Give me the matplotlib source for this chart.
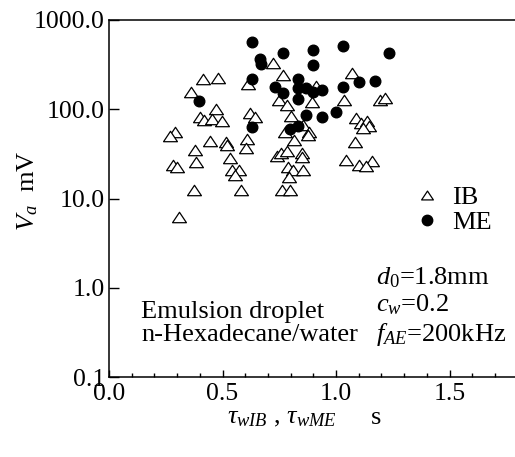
import numpy as np
import matplotlib
matplotlib.use("Agg")
import matplotlib.pyplot as plt
from matplotlib.path import Path
from matplotlib.lines import Line2D

plt.rcParams['font.family'] = ['Liberation Serif', 'DejaVu Serif']
plt.rcParams['mathtext.fontset'] = 'custom'
plt.rcParams['mathtext.rm'] = 'Liberation Serif'
plt.rcParams['mathtext.it'] = 'Liberation Serif:italic'

# IB (open triangles): waiting time tau_wIB [s] and amplitude Va [mV]
ib_tau = [0.724, 0.765, 0.611, 0.414, 0.481, 0.363, 0.914, 0.893, 0.750, 0.785,
          0.471, 0.621, 0.641, 0.400, 0.418, 0.454, 0.496, 0.800, 1.069, 1.035,
          1.194, 1.217, 1.089, 1.110, 1.135, 1.147, 1.120, 0.775, 0.856, 0.881,
          0.878, 0.817, 1.084, 0.291, 0.269, 0.445, 0.515, 0.519, 0.607, 0.604,
          0.379, 0.533, 0.739, 0.756, 0.786, 0.849, 0.851, 1.045, 1.159, 1.101,
          1.130, 0.383, 0.282, 0.298, 0.541, 0.574, 0.555, 0.374, 0.581, 0.310,
          0.790, 0.812, 0.853, 0.794, 0.762, 0.797]
ib_va = [332, 244, 192, 217, 222, 156, 181, 122, 127, 113,
         100, 91, 81, 81, 76, 78, 74, 84.5, 257, 127,
         127, 135, 79, 71, 74, 65, 61, 56, 66, 56,
         51, 45, 43, 55, 50, 44, 43, 40, 47, 37,
         34.5, 28.4, 30.3, 32.4, 34, 32.4, 29, 27, 26.3, 24,
         23, 25.8, 23.7, 22.7, 20.9, 20.9, 18.3, 12.5, 12.5, 6.15,
         22.8, 20.9, 20.9, 17.5, 12.5, 12.5]

# ME (filled circles)
me_tau = [0.632, 0.665, 0.670, 0.767, 0.900, 1.032, 1.235, 0.900, 0.632, 0.398,
          0.733, 0.767, 0.834, 0.834, 0.869, 0.900, 0.937, 1.032, 1.101, 1.172,
          0.834, 0.869, 0.937, 1.002, 0.632, 0.798, 0.834]
me_va = [571, 366, 321, 432, 461, 511, 424, 311, 217, 124,
         178, 153, 217, 172, 172, 158, 164, 179, 201, 209,
         129, 86, 81, 93, 63, 60, 65]

yticks = [0.1, 1, 10, 100, 1000]
ytick_labels = ["0.1", "1.0", "10.0", "100.0", "1000.0"]
xticks = [0.0, 0.5, 1.0, 1.5]
xtick_labels = ["0.0", "0.5", "1.0", "1.5"]

FS = 19

# wide, flat triangle like the original
tri = Path([(0, 0.75), (-1, -0.75), (1, -0.75), (0, 0.75)],
           [Path.MOVETO, Path.LINETO, Path.LINETO, Path.CLOSEPOLY])

W, H = 515, 457
fig = plt.figure(figsize=(W / 100, H / 100), dpi=100)
ax = fig.add_axes([109 / W, 1 - 377 / H, 408.6 / W, 357 / H])

ax.scatter(ib_tau, ib_va, marker=tri, s=100, facecolors='white',
           edgecolors='black', linewidths=0.9, zorder=3)
ax.scatter(me_tau, me_va, marker='o', s=58, color='black', zorder=4)

ax.set_yscale('log')
ax.set_ylim(0.1, 1000)
ax.set_xlim(0, 1.8)
ax.set_yticks(yticks)
ax.set_yticklabels(ytick_labels)
ax.yaxis.set_minor_locator(plt.NullLocator())
ax.set_xticks(xticks)
ax.set_xticklabels(xtick_labels)
ax.set_xticks(np.arange(0, 1.81, 0.1), minor=True)

ax.tick_params(axis='y', direction='in', length=7, width=1, pad=3, labelsize=18.5)
ax.tick_params(axis='x', which='major', direction='in', length=5, width=1,
               pad=4, labelsize=18.5)
ax.tick_params(axis='x', which='minor', direction='in', length=3, width=1)
ax.spines['right'].set_visible(False)
for s in ['left', 'bottom', 'top']:
    ax.spines[s].set_linewidth(1.1)

# legend
handles = [Line2D([], [], marker=tri, ls='none', ms=8.5, mfc='white',
                  mec='black', mew=0.9),
           Line2D([], [], marker='o', ls='none', ms=7.5, color='black')]
fig.legend(handles, ["IB", "ME"], loc='upper left',
           bbox_to_anchor=(414 / W, 1 - 186 / H), frameon=False,
           fontsize=FS, handlelength=1.0, handletextpad=0.45,
           borderpad=0, borderaxespad=0, labelspacing=0.05)

# annotations
fig.text(141 / W, 1 - 318 / H, "Emulsion droplet", fontsize=FS)
fig.text(141 / W, 1 - 341 / H, "n-Hexadecane/water", fontsize=FS)
fig.text(376 / W, 1 - 284 / H, "$d_0$=1.8mm", fontsize=FS)
fig.text(376 / W, 1 - 311 / H, "$c_w$=0.2", fontsize=FS)
fig.text(376 / W, 1 - 341 / H, "$f_{AE}$=200kHz", fontsize=FS)

# axis labels
fig.text(28 / W, 1 - 191 / H, "$V_a$  mV", fontsize=FS, rotation=90,
         ha='center', va='center')
fig.text(282 / W, 1 - 418 / H, r"$\tau_{wIB}$ , $\tau_{wME}$", fontsize=FS,
         ha='center', va='center')
fig.text(376 / W, 1 - 418 / H, "s", fontsize=FS, ha='center', va='center')

fig.savefig("out.png", dpi=100)
